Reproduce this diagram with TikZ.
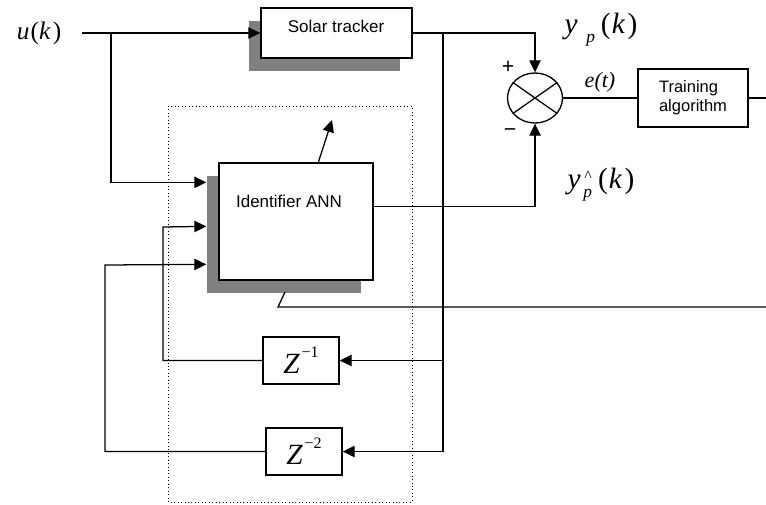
\documentclass[tikz,border=0pt]{standalone}
\usepackage{fontspec}
\setmainfont{Liberation Sans}
\newfontfamily\tms{Liberation Serif}
\usetikzlibrary{arrows.meta,shapes.geometric,calc,shadows}
\definecolor{shade}{gray}{0.5}
\newcommand{\zinv}[1]{\tms\fontsize{22}{24}\selectfont\textit{Z}\hspace{0.05em}\raisebox{0.55em}{\fontsize{12}{14}\selectfont −#1}}
\begin{document}
\begin{tikzpicture}[x=0.75pt,y=-0.75pt,
  blk/.style={draw,line width=1pt,fill=white,inner sep=0pt},
  shblk/.style={blk,drop shadow={shadow xshift=-9pt,shadow yshift=-9.75pt,fill=shade,opacity=1}},
  wire/.style={line width=0.95pt},
  arr/.style={wire,-{Triangle[length=9pt,width=8.5pt]}},
  sans/.style={font=\fontsize{12.75}{15}\selectfont,inner sep=0pt},
  mth/.style={font=\tms\fontsize{19}{22}\selectfont,inner sep=0pt},
  big/.style={font=\tms\fontsize{22}{26}\selectfont,inner sep=0pt},
  sgn/.style={font=\fontsize{16}{18}\selectfont,inner sep=0pt}]
\useasboundingbox (0,0) rectangle (766,504);
% dotted frame
\draw[line width=0.6pt,dotted] (168,106) rectangle (412,502);
% blocks
\node[shblk,minimum width=113.25pt,minimum height=37.5pt] (st) at (336.5,33) {};
\node[sans] (stl) at (336,26) {Solar tracker};
\node[shblk,minimum width=115.5pt,minimum height=87.75pt] (ann) at (296,221.5) {};
\node[sans] (annl) at (289,201) {Identifier ANN};
\node[blk,minimum width=57pt,minimum height=35.25pt] (z1) at (301,360.5) {\zinv{1}};
\node[blk,minimum width=57pt,minimum height=35.25pt] (z2) at (304,451.5) {\zinv{2}};
\node[blk,minimum width=82.5pt,minimum height=43.5pt,align=left,font=\fontsize{12.4}{14.25}\selectfont] (tr) at (693,98) {Training\\algorithm};
\node[draw,ellipse,line width=1pt,minimum width=41.25pt,minimum height=37.5pt,inner sep=0pt] (sum) at (535,98) {};
\draw[wire] (sum.145) -- (sum.-35) (sum.35) -- (sum.-145);
% labels
\node[mth] (u) at (39,33) {\textit{u}\hspace{0.05em}(\textit{k}\hspace{0.08em})};
\node[big] (yp) at (601,30) {\textit{y}\hspace{0.3em}\raisebox{-0.3em}{\fontsize{13}{15}\selectfont\textit{p}}\hspace{0.2em}(\hspace{0.04em}\textit{k}\hspace{0.08em})};
\node[big] (yh) at (601,185) {\textit{y}\hspace{0.1em}\raisebox{-0.3em}{\fontsize{13}{15}\selectfont\rlap{\raisebox{0.95em}{\hspace{0.05em}\fontsize{12}{12}\selectfont\textasciicircum}}\textit{p}}\hspace{0.2em}(\hspace{0.04em}\textit{k}\hspace{0.08em})};
\node[font=\tms\itshape\fontsize{16.5}{19}\selectfont,inner sep=0pt] (e) at (600,82) {e(t)};
\node[sgn] (plus) at (508,67) {+};
\node[sgn] (minus) at (510,133) {−};
% coordinates
\coordinate (uin) at (82,33);
\coordinate (b1) at (111,33);
\coordinate (in1) at ($(ann.north west)+(-12,20)$);
\coordinate (in2) at ($(ann.north west)+(-12,64)$);
\coordinate (in3) at ($(ann.north west)+(-12,102)$);
\coordinate (j1) at (163,227);
\coordinate (j2) at (105,265);
\coordinate (j3) at (443,33);
\coordinate (annout) at ($(ann.north east)+(0,44)$);
\coordinate (up0) at ($(ann.north west)+(100,0)$);
\coordinate (up1) at (332,120);
\coordinate (tk0) at (285,292);
\coordinate (tk1) at (278,307);
\coordinate (tk2) at (766,307);
\coordinate (trout) at (766,98);
% connectors
\draw[arr] (uin) -- (st.west);
\draw[arr] (b1) |- (in1);
\draw[arr] (z1.west) -| (j1) -- (in2);
\draw[arr] (z2.west) -| (j2) -- (in3);
\draw[arr] (st.east) -| (sum.north);
\draw[wire] (j3) -- (j3 |- z2.east);
\draw[arr] (j3 |- z1.east) -- (z1.east);
\draw[arr] (j3 |- z2.east) -- (z2.east);
\draw[arr] (annout) -| (sum.south);
\draw[wire] (sum.east) -- (tr.west);
\draw[wire] (tr.east) -- (trout);
\draw[arr] (up0) -- (up1);
\draw[wire] (tk0) -- (tk1) -- (tk2);
\end{tikzpicture}
\end{document}
